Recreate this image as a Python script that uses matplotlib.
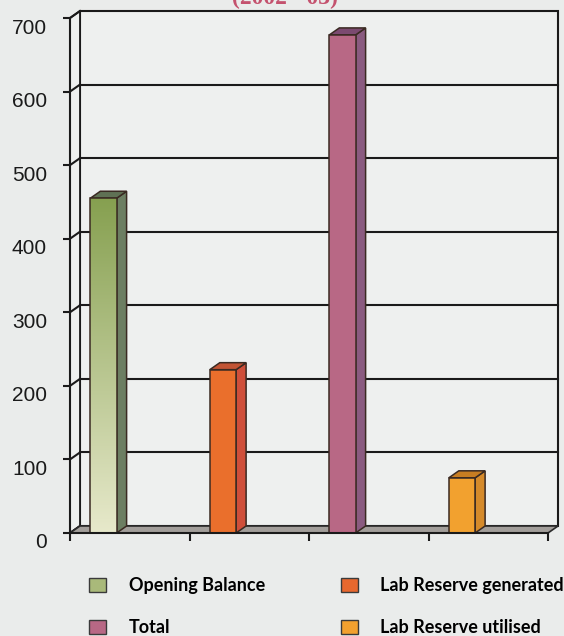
import numpy as np
import matplotlib
matplotlib.use("Agg")
import matplotlib.pyplot as plt
from matplotlib.patches import Polygon, Rectangle, Patch
from matplotlib.transforms import ScaledTranslation

# ---- data -------------------------------------------------------------
series = ["Opening Balance", "Lab Reserve generated", "Total", "Lab Reserve utilised"]
values = [455, 222, 677, 75]
y_ticks = [0, 100, 200, 300, 400, 500, 600, 700]
title = "(2002 - 03)"

# face colours: front, side, top
front_cols = ["#8ea55a", "#ea6f2c", "#b86885", "#f2a12f"]
side_cols = ["#6c7e62", "#cf4f3a", "#8a5b80", "#d58a2a"]
top_cols = ["#5f7154", "#c25434", "#7b4a70", "#c77d22"]
legend_cols = ["#a9b97a", "#b86885", "#e8682e", "#f2a12f"]
legend_order = [0, 2, 1, 3]

W, H, DPI = 564, 636, 100
fig = plt.figure(figsize=(W / DPI, H / DPI), dpi=DPI, facecolor="#eaeceb")

# axes box in pixels: front-left x=70, right x=548, value 0 at y=533, 700 at y=18
ax = fig.add_axes([70 / W, (H - 533) / H, 478 / W, 515 / H])
ax.set_xlim(0, 4)
ax.set_ylim(0, 700)
ax.set_facecolor("none")

# depth offset of the 3-D box, in data units
dx = 10 / 119.5
dy = 7 / 515 * 700

wall = "#eef0ef"
line_kw = dict(color="#1a1a1a", lw=1.5, clip_on=False)

# back wall and side wall
ax.add_patch(Polygon([(dx, dy), (4 + dx, dy), (4 + dx, 700 + dy), (dx, 700 + dy)],
                     closed=True, facecolor=wall, edgecolor="#1a1a1a", lw=1.5,
                     clip_on=False, zorder=0))
ax.add_patch(Polygon([(0, 0), (dx, dy), (dx, 700 + dy), (0, 700)],
                     closed=True, facecolor=wall, edgecolor="#1a1a1a", lw=1.3,
                     clip_on=False, zorder=0))

# gridlines on the back wall and the side wall
for v in y_ticks[1:-1]:
    ax.plot([dx, 4 + dx], [v + dy, v + dy], zorder=1, **line_kw)
for v in y_ticks:
    ax.plot([0, dx], [v, v + dy], zorder=1, **line_kw)

# floor
ax.add_patch(Polygon([(0, 0), (4, 0), (4 + dx, dy), (dx, dy)], closed=True,
                     facecolor="#a29e9a", edgecolor="#2a2a2a", lw=1.2,
                     clip_on=False, zorder=1))

# bars
bar_w = 0.22
edge = "#3a2a22"
for i, (v, fc, sc, tc) in enumerate(zip(values, front_cols, side_cols, top_cols)):
    x0 = i + 0.17
    x1 = x0 + bar_w
    ax.add_patch(Polygon([(x1, 0), (x1 + dx, dy), (x1 + dx, v + dy), (x1, v)],
                         closed=True, facecolor=sc, edgecolor=edge, lw=1.1,
                         clip_on=False, zorder=3))
    ax.add_patch(Polygon([(x0, v), (x1, v), (x1 + dx, v + dy), (x0 + dx, v + dy)],
                         closed=True, facecolor=tc, edgecolor=edge, lw=1.1,
                         clip_on=False, zorder=3))
    if i == 0:
        grad = np.linspace(0, 1, 256)[:, None]
        c_top = np.array(matplotlib.colors.to_rgb("#86a050"))
        c_bot = np.array(matplotlib.colors.to_rgb("#e7e9cb"))
        img = c_bot[None, None, :] * (1 - grad[..., None]) + c_top[None, None, :] * grad[..., None]
        img = np.repeat(img, 2, axis=1)
        im = ax.imshow(img, extent=[x0, x1, 0, v], origin="lower", aspect="auto",
                       zorder=4, interpolation="bilinear")
        im.set_clip_on(False)
        ax.add_patch(Rectangle((x0, 0), bar_w, v, facecolor="none", edgecolor=edge,
                               lw=1.1, clip_on=False, zorder=5))
    else:
        ax.add_patch(Rectangle((x0, 0), bar_w, v, facecolor=fc, edgecolor=edge,
                               lw=1.1, clip_on=False, zorder=5))

ax.set_xlim(0, 4)
ax.set_ylim(0, 700)

# axes: front vertical axis and front baseline
for s in ["top", "right"]:
    ax.spines[s].set_visible(False)
for s in ["left", "bottom"]:
    ax.spines[s].set_linewidth(1.5)
    ax.spines[s].set_color("#1a1a1a")
    ax.spines[s].set_zorder(6)

ax.set_yticks(y_ticks)
ax.set_yticklabels([str(t) for t in y_ticks])
ax.set_xticks([0, 1, 2, 3, 4])
ax.set_xticklabels([])
ax.tick_params(axis="y", direction="out", length=5, width=1.5, color="#1a1a1a",
               pad=11.5, labelsize=15, labelcolor="#1a1a1a")
ax.tick_params(axis="x", direction="out", length=5.5, width=1.5, color="#1a1a1a")
for lab in ax.get_yticklabels():
    lab.set_fontfamily("Liberation Sans")
    lab.set_transform(lab.get_transform() + ScaledTranslation(0, -8 / DPI, fig.dpi_scale_trans))

# title, mostly above the top edge of the figure
fig.text(285 / W, 1 - 4 / H, title, ha="center", va="baseline", color="#c4526e",
         fontfamily="Liberation Serif", fontweight="bold", fontsize=17)

# legend
handles = [Patch(facecolor=legend_cols[j], edgecolor="#3a3a3a", lw=1.0)
           for j in range(4)]
labels = [series[k] for k in legend_order]
leg = fig.legend(handles, labels, ncol=2, loc="upper left",
                 bbox_to_anchor=(73 / W, 1 - 561 / H), frameon=False,
                 prop={"family": "Lato", "weight": "bold", "size": 13},
                 handlelength=0.94, handleheight=0.83, handletextpad=1.25,
                 columnspacing=4.2, labelspacing=1.38)

fig.savefig("out.png", dpi=DPI, facecolor=fig.get_facecolor())
